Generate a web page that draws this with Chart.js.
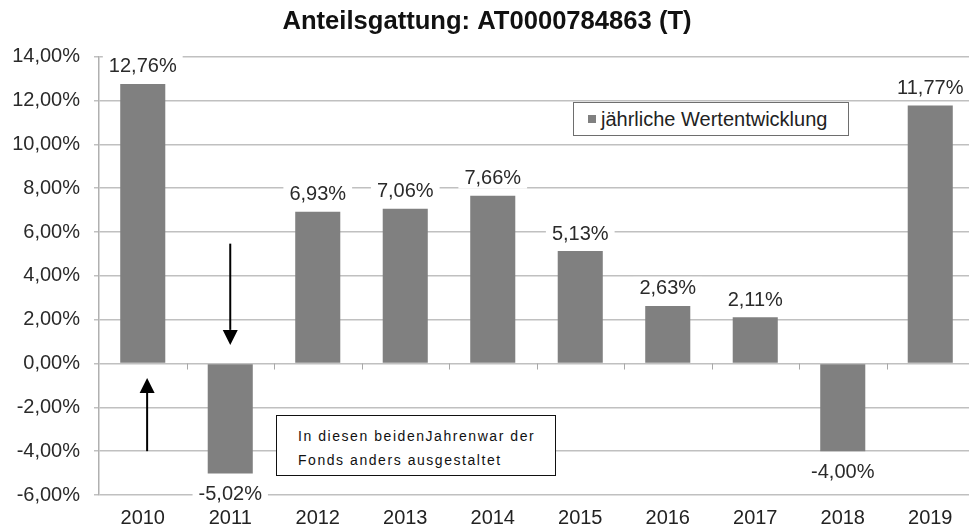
<!DOCTYPE html>
<html><head><meta charset="utf-8">
<script src="https://cdn.jsdelivr.net/npm/chart.js@4.4.1/dist/chart.umd.min.js"></script>
<style>
html,body{margin:0;padding:0;background:#fff;overflow:hidden;width:969px;height:530px}
#wrap{position:relative;width:974px;height:530px}
#legend{position:absolute;left:573px;top:102px;width:274px;height:32px;border:1.5px solid #6e6e6e;background:#fff;display:flex;align-items:center;font-family:"Liberation Sans",Arial,sans-serif;font-size:20px;color:#222;box-sizing:content-box}
#legend .mk{width:8px;height:8px;background:#808080;margin-left:14px;margin-right:5px}
#note{position:absolute;left:276px;top:415px;width:280px;height:61px;border:1.5px solid #111;background:#fff;font-family:"Liberation Sans",Arial,sans-serif;font-size:14px;letter-spacing:1.55px;color:#111;line-height:24px;padding:8px 0 0 21px;box-sizing:border-box}
</style></head>
<body>
<div id="wrap">
<canvas id="c"></canvas>
<div id="legend"><span class="mk"></span><span id="legtxt"></span></div>
<div id="note"></div>
</div>
<script>
const chartTitle = 'Anteilsgattung: AT0000784863 (T)';
const seriesName = 'jährliche Wertentwicklung';
const years = ['2010','2011','2012','2013','2014','2015','2016','2017','2018','2019'];
const returns = [12.76, -5.02, 6.93, 7.06, 7.66, 5.13, 2.63, 2.11, -4.00, 11.77];
const yMin = -6, yMax = 14, yStep = 2;
const noteLines = ['In diesen beidenJahrenwar der', 'Fonds anders ausgestaltet'];
// arrows: category position (index), start value, tip value
const arrowX = [0.05, 1.0];
const arrowFrom = [-4.0, 5.47];
const arrowTo = [-0.66, 0.85];

const fmt = v => v.toFixed(2).replace('.', ',') + '%';
document.getElementById('legtxt').textContent = seriesName;
document.getElementById('note').innerHTML = noteLines.map(l => '<div>' + l + '</div>').join('');

const FONT = '"Liberation Sans", Arial, sans-serif';
const GRID = '#c0c0c0';

const overlay = {
  id: 'overlay',
  afterDatasetsDraw(chart) {
    const ctx = chart.ctx;
    const xs = chart.scales.x, ys = chart.scales.y;
    const y0 = ys.getPixelForValue(0);
    const cw = xs.getPixelForValue(1) - xs.getPixelForValue(0);
    // tick marks on zero line between categories
    ctx.save();
    ctx.strokeStyle = '#a8a8a8';
    ctx.lineWidth = 1;
    for (let i = 1; i < years.length; i++) {
      const x = Math.round(xs.getPixelForValue(i) - cw / 2) + 0.5;
      ctx.beginPath(); ctx.moveTo(x, y0); ctx.lineTo(x, y0 + 6); ctx.stroke();
    }
    // data labels
    ctx.font = '20px ' + FONT;
    ctx.textAlign = 'center';
    ctx.textBaseline = 'middle';
    const meta = chart.getDatasetMeta(0);
    meta.data.forEach((bar, i) => {
      const v = returns[i];
      const t = fmt(v);
      const y = v >= 0 ? bar.y - 18 : bar.y + 20;
      const w = ctx.measureText(t).width;
      ctx.fillStyle = '#fff';
      ctx.fillRect(bar.x - w / 2 - 6, y - 11, w + 12, 22);
      ctx.fillStyle = '#2a2a2a';
      ctx.fillText(t, bar.x, y + 1);
    });
    // arrows
    ctx.strokeStyle = '#000';
    ctx.fillStyle = '#000';
    ctx.lineWidth = 2;
    for (let i = 0; i < arrowX.length; i++) {
      const x = xs.getPixelForValue(arrowX[i]);
      const ya = ys.getPixelForValue(arrowFrom[i]);
      const yb = ys.getPixelForValue(arrowTo[i]);
      const dir = yb > ya ? 1 : -1;
      const hl = 15, hw = 7.5;
      ctx.beginPath(); ctx.moveTo(x, ya); ctx.lineTo(x, yb - dir * hl); ctx.stroke();
      ctx.beginPath();
      ctx.moveTo(x, yb);
      ctx.lineTo(x - hw, yb - dir * hl);
      ctx.lineTo(x + hw, yb - dir * hl);
      ctx.closePath(); ctx.fill();
    }
    ctx.restore();
  }
};

new Chart(document.getElementById('c'), {
  type: 'bar',
  data: {
    labels: years,
    datasets: [{
      label: seriesName,
      data: returns,
      backgroundColor: '#808080',
      borderWidth: 0,
      barPercentage: 0.515,
      categoryPercentage: 1.0
    }]
  },
  options: {
    responsive: true,
    maintainAspectRatio: false,
    animation: false,
    devicePixelRatio: 1,
    layout: { padding: { left: 0, right: 0, top: 0, bottom: 0 } },
    plugins: {
      legend: { display: false },
      tooltip: { enabled: false },
      title: {
        display: true,
        text: chartTitle,
        color: '#111',
        font: { family: FONT, size: 25.6, weight: 'bold' },
        padding: { top: 7, bottom: 19 }
      }
    },
    scales: {
      x: {
        grid: { display: false, drawTicks: false },
        border: { display: false },
        ticks: { color: '#222', font: { family: FONT, size: 20 }, padding: 11, maxRotation: 0 },
        afterFit(s) { s.height = 35; }
      },
      y: {
        min: yMin, max: yMax,
        ticks: { stepSize: yStep, color: '#2a2a2a', font: { family: FONT, size: 20 }, padding: 14, callback: v => fmt(v) },
        grid: { color: GRID, lineWidth: 1.5, tickLength: 5, tickColor: GRID },
        border: { display: true, color: '#b0b0b0', width: 1.5 },
        afterFit(s) { s.width = 99; }
      }
    }
  },
  plugins: [overlay]
});
</script>
</body></html>
